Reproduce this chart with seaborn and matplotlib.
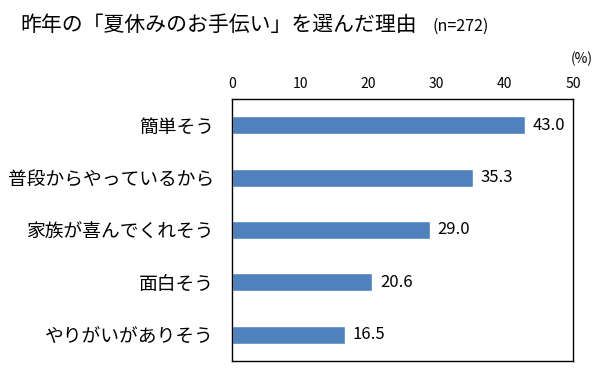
import matplotlib
matplotlib.use("Agg")
import matplotlib.pyplot as plt
import seaborn as sns
import pandas as pd

categories = ["簡単そう", "普段からやっているから", "家族が喜んでくれそう", "面白そう", "やりがいがありそう"]
values = [43.0, 35.3, 29.0, 20.6, 16.5]
xticks = [0, 10, 20, 30, 40, 50]

sns.set_theme(style="white")
plt.rcParams['font.family'] = ['Noto Sans CJK JP', 'DejaVu Sans']

df = pd.DataFrame({"cat": categories, "val": values})

W, H = 613, 385
fig = plt.figure(figsize=(W / 100, H / 100), dpi=100)
L, R, T, B = 232, 573, 99, 361
ax = fig.add_axes([L / W, 1 - B / H, (R - L) / W, (B - T) / H])
sns.barplot(data=df, x="val", y="cat", color="#4F81BD", width=0.34, ax=ax, saturation=1)

ax.set_xlim(0, 50)
ax.set_ylim(4.5, -0.5)
ax.set_xticks(xticks)
ax.set_xticklabels([str(t) for t in xticks])
ax.xaxis.tick_top()
ax.tick_params(axis='x', length=0, pad=6, labelsize=10, colors='black')
ax.tick_params(axis='y', length=0, pad=13, labelsize=13.5, colors='black')
ax.set_xlabel("")
ax.set_ylabel("")
for s in ax.spines.values():
    s.set_visible(True)
    s.set_color("black")
    s.set_linewidth(1.0)

for i, v in enumerate(values):
    ax.text(v + 1.15, i, f"{v:.1f}", va="center", ha="left", fontsize=12, color="black")

fig.text(20 / W, 1 - 25 / H, "昨年の「夏休みのお手伝い」を選んだ理由", fontsize=15, va="center", ha="left", color="black")
fig.text(432 / W, 1 - 26 / H, "(n=272)", fontsize=11.5, va="center", ha="left", color="black")
fig.text(582 / W, 1 - 59 / H, "(%)", fontsize=10, va="center", ha="center", color="black")

fig.savefig("out.png", dpi=100)
